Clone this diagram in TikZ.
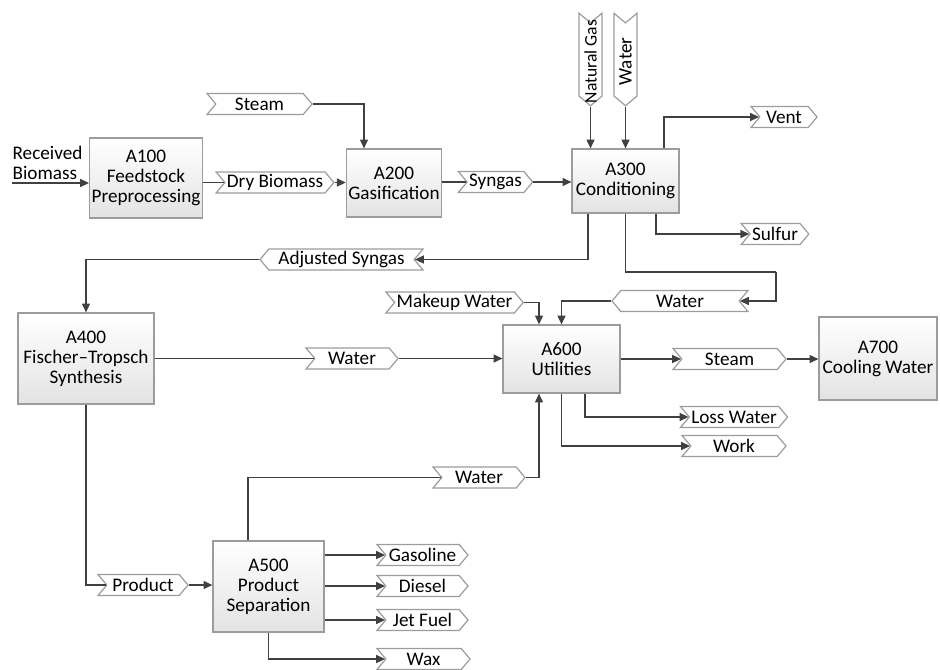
\documentclass[tikz,border=0pt]{standalone}
\usepackage{fontspec}
\setmainfont{Carlito}
\usetikzlibrary{shapes.symbols,arrows.meta}
\definecolor{edge}{HTML}{9C9C9C}
\definecolor{flow}{HTML}{404040}

\begin{document}
\begin{tikzpicture}[x=0.5pt,y=-0.5pt,>={Triangle[length=4.4pt,width=4pt]},
	font=\fontsize{9.6}{10}\selectfont,
	unitbox/.style={draw=edge,top color=white,bottom color=gray!22,align=center,inner sep=1pt},
	stream/.style={signal,signal to=east,signal from=west,draw=edge,fill=white,
		signal pointer angle=100,minimum height=10.5pt,inner sep=1pt},
	streamback/.style={stream,signal to=west,signal from=east},
	streamdown/.style={stream,signal to=south,signal from=north,minimum height=43.5pt,minimum width=11.5pt},
	every path/.append style={draw=flow,line width=0.6pt}]
	\path[use as bounding box,draw=none] (0,0) rectangle (940,669);

	\node[unitbox,minimum width=56pt,minimum height=40pt] (a100) at (146,178) {A100\\Feedstock\\Preprocessing};
	\node[unitbox,minimum width=47pt,minimum height=34pt] (a200) at (394,183) {A200\\Gasification};
	\node[unitbox,minimum width=53.5pt,minimum height=32pt] (a300) at (625.5,181) {A300\\Conditioning};
	\node[unitbox,minimum width=68pt,minimum height=45.5pt] (a400) at (86,358.5) {A400\\Fischer–Tropsch\\Synthesis};
	\node[unitbox,minimum width=55.5pt,minimum height=45.5pt] (a500) at (268.5,586.5) {A500\\Product\\Separation};
	\node[unitbox,minimum width=58.5pt,minimum height=34pt] (a600) at (561.5,359) {A600\\Utilities};
	\node[unitbox,minimum width=59pt,minimum height=41.5pt] (a700) at (878,358.5) {A700\\Cooling Water};

	\node[stream,minimum width=52.5pt] (steamin) at (259.5,104) {Steam};
	\node[stream,minimum width=53pt] (drybio) at (275,182.5) {Dry Biomass};
	\node[stream,minimum width=33.5pt] (syngas) at (495.5,182) {Syngas};
	\node[streamdown,font=\fontsize{8.8}{10}\selectfont] (natgas) at (590.5,59.5) {\rotatebox{90}{\makebox[30pt]{\hspace*{-2pt}Natural Gas}}};
	\node[streamdown] (waterin) at (625.5,59.5) {\rotatebox{90}{\makebox[30pt]{\hspace*{-2pt}Water}}};
	\node[stream,minimum width=33pt] (vent) at (784,117) {Vent};
	\node[stream,minimum width=33pt] (sulfur) at (775,234) {Sulfur};
	\node[streamback,minimum width=81.5pt] (adjsyn) at (341.5,259.5) {Adjusted Syngas};
	\node[stream,minimum width=61.5pt] (makeup) at (454.5,302.5) {Makeup Water};
	\node[streamback,minimum width=68pt] (waterret) at (680,301) {Water};
	\node[stream,minimum width=46pt] (waterft) at (352,358.5) {Water};
	\node[stream,minimum width=56.5pt] (steamout) at (729.5,359) {Steam};
	\node[stream,minimum width=52pt] (losswater) at (734,417) {Loss Water};
	\node[stream,minimum width=52pt] (work) at (734,446) {Work};
	\node[stream,minimum width=46pt] (watersep) at (479,477.5) {Water};
	\node[stream,minimum width=45.5pt] (gasoline) at (422.5,555) {Gasoline};
	\node[stream,minimum width=45.5pt] (diesel) at (422.5,586) {Diesel};
	\node[stream,minimum width=45.5pt] (jetfuel) at (422.5,620) {Jet Fuel};
	\node[stream,minimum width=46.5pt] (wax) at (423.5,659) {Wax};
	\node[stream,minimum width=45pt] (product) at (143,585) {Product};

	\node[align=left,anchor=south west,inner sep=0pt] (rbtext) at (12,180) {Received\\Biomass};
	\coordinate (rb) at (12,183);
	\coordinate (bendret) at (776,272);

	\draw[->] (rb) -- (rb -| a100.west);
	\draw (a100.east |- drybio) -- (drybio.west);
	\draw[->] (drybio.east) -- (drybio.east -| a200.west);
	\draw[->] (steamin.east) -| ([xshift=-15pt]a200.north);
	\draw (a200.east |- syngas) -- (syngas.west);
	\draw[->] (syngas.east) -- (syngas.east -| a300.west);
	\draw[->] (natgas.south) -- (natgas.south |- a300.north);
	\draw[->] (waterin.south) -- (waterin.south |- a300.north);
	\draw[->] ([xshift=19.25pt]a300.north) |- (vent.west);
	\draw[->] ([xshift=15.25pt]a300.south) |- (sulfur.west);
	\draw[->] ([xshift=-18.75pt]a300.south) |- (adjsyn.east);
	\draw[->] (adjsyn.west) -| (a400.north);
	\draw (a300.south) |- (bendret);
	\draw[->] (bendret) |- (waterret.east);
	\draw[->] (waterret.west) -| (a600.north);
	\draw[->] (makeup.east) -| ([xshift=-11.25pt]a600.north);
	\draw (a400.east |- waterft) -- (waterft.west);
	\draw[->] (waterft.east) -- (waterft.east -| a600.west);
	\draw[->] (a600.east |- steamout) -- (steamout.west);
	\draw[->] (steamout.east) -- (steamout.east -| a700.west);
	\draw[->] ([xshift=11.75pt]a600.south) |- (losswater.west);
	\draw[->] (a600.south) |- (work.west);
	\draw ([xshift=-10.25pt]a500.north) |- (watersep.west);
	\draw[->] (watersep.east) -| ([xshift=-11.25pt]a600.south);
	\draw (a400.south) |- (product.west);
	\draw[->] (product.east) -- (product.east -| a500.west);
	\draw[->] (a500.east |- gasoline) -- (gasoline.west);
	\draw[->] (a500.east |- diesel) -- (diesel.west);
	\draw[->] (a500.east |- jetfuel) -- (jetfuel.west);
	\draw[->] (a500.south) |- (wax.west);
\end{tikzpicture}
\end{document}
